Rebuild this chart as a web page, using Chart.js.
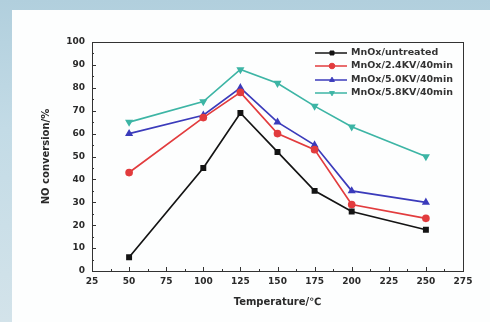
<!DOCTYPE html>
<html>
<head>
<meta charset="utf-8">
<script src="https://cdn.jsdelivr.net/npm/chart.js@4.4.0/dist/chart.umd.min.js"></script>
<style>
    html, body { margin: 0; padding: 0; }
    body {
        width: 490px; height: 322px; overflow: hidden; position: relative;
        background: linear-gradient(180deg, #b1cfdd 0%, #c3dbe6 40%, #d3e3ea 100%);
    }
    #panel {
        position: absolute; left: 12px; top: 10px; right: 0; bottom: 0;
        background: #fdfefe;
    }
    #wrap { position: absolute; left: 0; top: 0; width: 490px; height: 322px; }
</style>
</head>
<body>
<div id="panel"></div>
<div id="wrap"><canvas id="noChart" width="490" height="322"></canvas></div>
<script>
// Temperatures (°C) and NO conversion (%)
const temperatures = [50, 100, 125, 150, 175, 200, 250];
const untreated = [6, 45, 69, 52, 35, 26, 18];
const kv24 = [43, 67, 78, 60, 53, 29, 23];
const kv50 = [60, 68, 80, 65, 55, 35, 30];
const kv58 = [65, 74, 88, 82, 72, 63, 50];
const seriesNames = ['MnOx/untreated', 'MnOx/2.4KV/40min', 'MnOx/5.0KV/40min', 'MnOx/5.8KV/40min'];
const xTicks = [25, 50, 75, 100, 125, 150, 175, 200, 225, 250, 275];
const yTicks = [0, 10, 20, 30, 40, 50, 60, 70, 80, 90, 100];

const colors = ['#141414', '#e23c3e', '#3b3bbb', '#3db5a5'];
const markers = ['rect', 'circle', 'triangle', 'triangle'];
const rotations = [0, 0, 0, 180];
const seriesValues = [untreated, kv24, kv50, kv58];

const fontFamily = 'DejaVu Sans, sans-serif';
const tickFont = { family: fontFamily, size: 9, weight: 'bold' };
const titleFont = { family: fontFamily, size: 10, weight: 'bold' };

// Box around the plot, inward ticks and the line+marker legend
const framePlugin = {
    id: 'frame',
    afterDraw(chart) {
        const { ctx, chartArea: a, scales: { x, y } } = chart;
        ctx.save();
        ctx.strokeStyle = '#333';
        ctx.lineWidth = 1;
        ctx.strokeRect(a.left + 0.5, a.top + 0.5, a.right - a.left, a.bottom - a.top);

        ctx.beginPath();
        for (let v = xTicks[0]; v <= xTicks[xTicks.length - 1]; v += 12.5) {
            const px = Math.round(x.getPixelForValue(v)) + 0.5;
            const len = (v % 25 === 0) ? 4 : 2;
            ctx.moveTo(px, a.bottom);
            ctx.lineTo(px, a.bottom - len);
        }
        for (let v = 0; v <= 100; v += 5) {
            const py = Math.round(y.getPixelForValue(v)) + 0.5;
            const len = (v % 10 === 0) ? 4 : 2;
            ctx.moveTo(a.left, py);
            ctx.lineTo(a.left + len, py);
        }
        ctx.stroke();

        // legend
        const lx = 315, tx = 351;
        const rows = [53, 66, 80, 93];
        ctx.font = 'bold 9.5px ' + fontFamily;
        ctx.textBaseline = 'middle';
        chart.data.datasets.forEach((ds, i) => {
            const ry = rows[i];
            ctx.strokeStyle = ds.borderColor;
            ctx.fillStyle = ds.borderColor;
            ctx.lineWidth = 1.5;
            ctx.beginPath();
            ctx.moveTo(lx, ry);
            ctx.lineTo(lx + 32, ry);
            ctx.stroke();
            ctx.lineWidth = 1;
            Chart.helpers.drawPoint(ctx, {
                pointStyle: ds.pointStyle, radius: 2.8, rotation: ds.rotation, borderWidth: 1
            }, lx + 17, ry);
            ctx.fillStyle = '#333';
            ctx.fillText(ds.label, tx, ry);
        });
        ctx.restore();
    }
};

const datasets = seriesNames.map((name, i) => ({
    label: name,
    data: temperatures.map((t, j) => ({ x: t, y: seriesValues[i][j] })),
    borderColor: colors[i],
    backgroundColor: colors[i],
    borderWidth: 1.7,
    pointStyle: markers[i],
    rotation: rotations[i],
    pointRadius: 3,
    pointHoverRadius: 3,
    tension: 0
}));

new Chart(document.getElementById('noChart').getContext('2d'), {
    type: 'line',
    data: { datasets: datasets },
    options: {
        responsive: false,
        animation: false,
        layout: { padding: { left: 36, top: 42, right: 27, bottom: 0 } },
        plugins: { legend: { display: false }, tooltip: { enabled: false } },
        scales: {
            x: {
                type: 'linear',
                min: 25,
                max: 275,
                afterBuildTicks: (scale) => { scale.ticks = xTicks.map(v => ({ value: v })); },
                afterFit: (scale) => { scale.height = 51; },
                grid: { display: false, drawTicks: false },
                border: { display: false },
                ticks: { font: tickFont, color: '#2a2a2a', padding: 5, maxRotation: 0, autoSkip: false },
                title: {
                    display: true, text: 'Temperature/℃', color: '#2a2a2a',
                    font: titleFont,
                    padding: { top: 0, bottom: 14 }
                }
            },
            y: {
                min: 0,
                max: 100,
                afterBuildTicks: (scale) => { scale.ticks = yTicks.map(v => ({ value: v })); },
                afterFit: (scale) => { scale.width = 56; },
                grid: { display: false, drawTicks: false },
                border: { display: false },
                ticks: { font: tickFont, color: '#2a2a2a', padding: 7 },
                title: {
                    display: true, text: 'NO conversion/%', color: '#2a2a2a',
                    font: titleFont,
                    padding: { top: 4, bottom: 0 }
                }
            }
        }
    },
    plugins: [framePlugin]
});
</script>
</body>
</html>
